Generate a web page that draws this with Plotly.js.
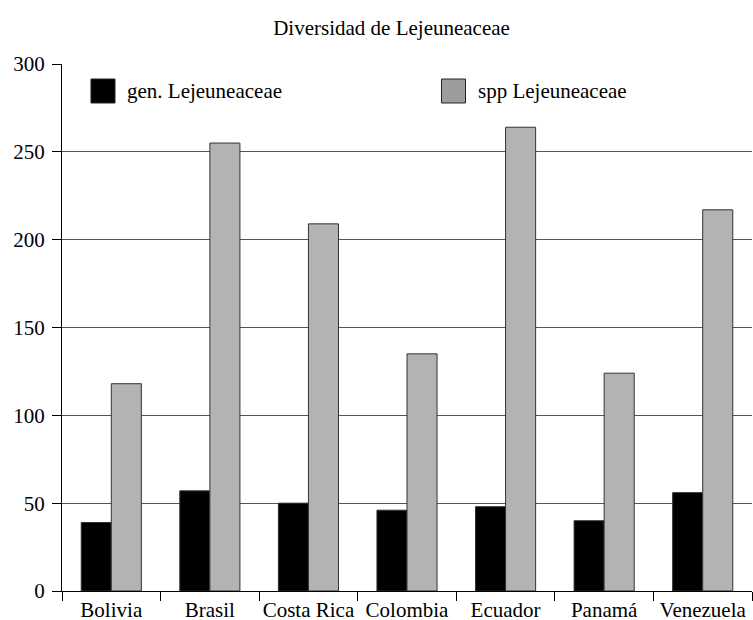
<!DOCTYPE html>
<html>
<head>
<meta charset="utf-8">
<script src="https://cdn.plot.ly/plotly-3.0.1.min.js"></script>
<style>
html, body { margin: 0; padding: 0; background: #fff; }
#chart { width: 753px; height: 620px; }
</style>
</head>
<body>
<div id="chart"></div>
<script>
const countries = ["Bolivia", "Brasil", "Costa Rica", "Colombia", "Ecuador", "Panamá", "Venezuela"];
const genLejeuneaceae = [39, 57, 50, 46, 48, 40, 56];
const sppLejeuneaceae = [118, 255, 209, 135, 264, 124, 217];
const seriesNames = ["gen. Lejeuneaceae", "spp Lejeuneaceae"];
const yTicks = [0, 50, 100, 150, 200, 250, 300];

const fontFam = '"Liberation Serif", "Times New Roman", Times, serif';
const barColors = ['#000000', '#b3b3b3'];
const swatchColors = ['#000000', '#9c9c9c'];

const traces = [
  {
    type: 'bar', name: seriesNames[0], x: countries, y: genLejeuneaceae, showlegend: false,
    marker: { color: barColors[0], line: { color: '#333333', width: 1 } }
  },
  {
    type: 'bar', name: seriesNames[1], x: countries, y: sppLejeuneaceae, showlegend: false,
    marker: { color: barColors[1], line: { color: '#333333', width: 1 } }
  }
];

// legend drawn as paper-referenced swatches + labels
const legendX = [0.042, 0.550];
const swW = 0.0348, swY0 = 0.926, swY1 = 0.9715, txtY = 0.9488, txtDx = 0.0145;
const shapes = seriesNames.map((n, i) => ({
  type: 'rect', xref: 'paper', yref: 'paper',
  x0: legendX[i], x1: legendX[i] + swW, y0: swY0, y1: swY1,
  fillcolor: swatchColors[i], line: { color: '#222', width: 1 }
}));
const annotations = seriesNames.map((n, i) => ({
  xref: 'paper', yref: 'paper', x: legendX[i] + swW + txtDx, y: txtY,
  xanchor: 'left', yanchor: 'middle', text: n, showarrow: false,
  font: { family: fontFam, size: 21, color: '#000' }
}));

const layout = {
  width: 753, height: 620,
  margin: { l: 62, r: 1, t: 64, b: 29, pad: 0 },
  paper_bgcolor: '#ffffff', plot_bgcolor: '#ffffff',
  font: { family: fontFam, size: 21, color: '#000000' },
  title: { text: 'Diversidad de Lejeuneaceae', x: 0.52, xanchor: 'center', y: 0.955, yanchor: 'middle', font: { family: fontFam, size: 21, color: '#000' } },
  bargap: 0.39, bargroupgap: 0,
  showlegend: false,
  shapes: shapes,
  annotations: annotations,
  xaxis: {
    type: 'category', tickson: 'boundaries', ticks: 'outside', ticklen: 9, tickcolor: '#000', tickwidth: 1,
    tickangle: 0, showline: true, linecolor: '#000', linewidth: 1, showgrid: false, zeroline: false,
    tickfont: { family: fontFam, size: 21, color: '#000' }
  },
  yaxis: {
    range: [0, 300], tickvals: yTicks, ticktext: yTicks.map(String), ticks: 'outside', ticklen: 9,
    ticklabelstandoff: 3,
    tickcolor: '#000', tickwidth: 1, showline: true, linecolor: '#000', linewidth: 1,
    showgrid: true, gridcolor: '#555555', gridwidth: 1, zeroline: false,
    tickfont: { family: fontFam, size: 21, color: '#000' }
  }
};

Plotly.newPlot('chart', traces, layout, { displayModeBar: false, staticPlot: true });
</script>
</body>
</html>
